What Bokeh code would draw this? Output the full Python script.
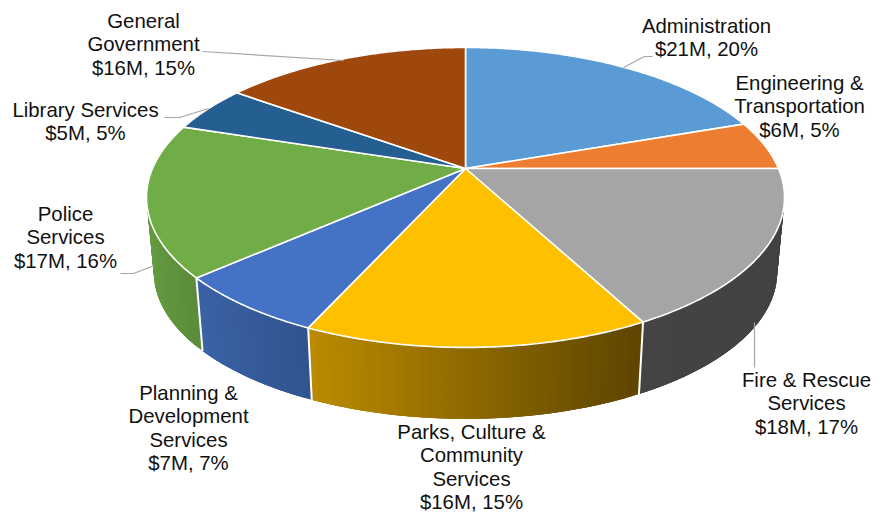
import numpy as np
from bokeh.embed import file_html
from bokeh.models import ColumnDataSource, Range1d
from bokeh.plotting import figure
from bokeh.resources import INLINE
from bokeh.core.properties import value

# Budget by department, clockwise from twelve o'clock
departments = ["Administration", "Engineering & Transportation", "Fire & Rescue Services",
               "Parks, Culture & Community Services", "Planning & Development Services",
               "Police Services", "Library Services", "General Government"]
dollars_m = [21, 6, 18, 16, 7, 17, 5, 16]
# Shares before rounding; the labels show them as whole percents
shares = [19.7, 5.3, 17.2, 14.6, 6.7, 16.4, 5.0, 15.1]
top_colors = ["#5B9BD5", "#ED7D31", "#A5A5A5", "#FFC000", "#4472C4", "#70AD47", "#255E91", "#9E480E"]
# Wall shading, left and right ends of each slice's visible side
wall_left = ["#3F6F9F", "#B0561F", "#444444", "#BC8C00", "#3B62A6", "#639A3F", "#1B4469", "#6F320A"]
wall_right = ["#3F6F9F", "#B0561F", "#424242", "#5E4500", "#30548F", "#5A8C3A", "#1B4469", "#6F320A"]

# Label text, split into lines; the dollar and percent line comes from the data
label_lines = [["Administration"], ["Engineering &", "Transportation"], ["Fire & Rescue", "Services"],
               ["Parks, Culture &", "Community", "Services"], ["Planning &", "Development", "Services"],
               ["Police", "Services"], ["Library Services"], ["General", "Government"]]
label_x = [706, 799, 806, 471, 188, 65, 85, 143]
label_y = [25, 82, 379, 431, 392, 213, 109, 20]
line_step = 23.6

# Perspective pie geometry, in page pixels
CX, CY = 465.0, 168.0
RX = 313.0
TILT = 0.193
RY = 144.4
DEPTH = 75.5
BASE_SCALE = 0.977


def project(theta, base=False):
    """Map a clockwise angle from the top onto the tilted disc."""
    sx, sy = np.sin(theta), np.cos(theta)
    d = 1 + TILT * sy
    x, y = RX * sx / d, -RY * sy / d
    if base:
        return CX + BASE_SCALE * x, CY + DEPTH + BASE_SCALE * y
    return CX + x, CY + y


def mix(a, b, t):
    ca = [int(a[i:i + 2], 16) for i in (1, 3, 5)]
    cb = [int(b[i:i + 2], 16) for i in (1, 3, 5)]
    return "#%02x%02x%02x" % tuple(round(u + (v - u) * t) for u, v in zip(ca, cb))


edges = np.cumsum([0] + shares) / sum(shares) * 2 * np.pi

p = figure(width=888, height=512, x_range=Range1d(0, 888), y_range=Range1d(512, 0),
           toolbar_location=None, output_backend="svg", min_border=0,
           outline_line_color=None, background_fill_color="white", border_fill_color="white")
p.axis.visible = False
p.grid.visible = False

# Side wall: overlapping narrow bands, painted in order, so each slice shades across its width
wx, wy, wc = [], [], []
for i in range(len(shares)):
    a0, a1 = edges[i], edges[i + 1]
    steps = np.linspace(a0, a1, int(max(4, (a1 - a0) / 0.02)) + 1)
    sx, _ = project(steps)
    lo, hi = sx.min(), sx.max()
    for k in range(len(steps) - 1):
        band = np.linspace(steps[k], steps[min(k + 3, len(steps) - 1)], 6)
        ux, uy = project(band)
        bx, by = project(band[::-1], True)
        t = (sx[k] - lo) / max(hi - lo, 1)
        wx.append(ux.tolist() + bx.tolist())
        wy.append(uy.tolist() + by.tolist())
        wc.append(mix(wall_left[i], wall_right[i], float(t)))
p.patches("xs", "ys", source=ColumnDataSource(dict(xs=wx, ys=wy, c=wc)),
          fill_color="c", line_color=None)

# White seams between the wall sections
for a in edges[3:6]:
    x0, y0 = project(a)
    x1, y1 = project(a, True)
    p.line([x0, x1], [y0, y1], line_color="white", line_width=2)

# Top face of each slice
xs, ys = [], []
for i in range(len(shares)):
    arc = np.linspace(edges[i], edges[i + 1], 80)
    ax, ay = project(arc)
    xs.append([CX] + ax.tolist())
    ys.append([CY] + ay.tolist())
p.patches("xs", "ys", source=ColumnDataSource(dict(xs=xs, ys=ys, c=top_colors)),
          fill_color="c", line_color="white", line_width=1.6, line_join="round")

# Leader lines from the labels to their slices
leaders = [
    ([652, 644, 623], [56, 56, 67]),
    ([754, 754], [322, 367]),
    ([120, 133, 154], [273, 273, 265]),
    ([164, 179, 208], [117, 117, 108]),
    ([202, 343], [51, 60]),
]
for lx, ly in leaders:
    p.line(lx, ly, line_color="#A6A6A6", line_width=1.2)

# Labels
tx, ty, tt = [], [], []
for i, lines in enumerate(label_lines):
    full = lines + [f"${dollars_m[i]}M, {round(shares[i])}%"]
    for j, s in enumerate(full):
        tx.append(label_x[i])
        ty.append(label_y[i] + j * line_step)
        tt.append(s)
p.text("x", "y", text="t", source=ColumnDataSource(dict(x=tx, y=ty, t=tt)),
       text_font=value("Liberation Sans"), text_font_size="20.4px", text_color="#111111",
       text_align="center", text_baseline="middle")

open("out.html", "w").write(file_html(p, INLINE))
